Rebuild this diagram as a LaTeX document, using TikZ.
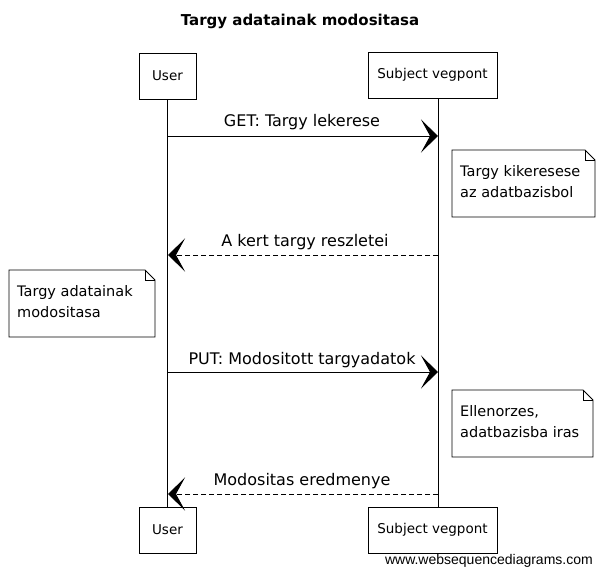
\documentclass[tikz,border=0pt]{standalone}
\usepackage{fontspec}
\setmainfont{DejaVu Sans}
\newfontfamily\footfont{Liberation Sans}
\usetikzlibrary{arrows.meta}
\tikzset{
  part/.style={draw, line width=0.8pt, minimum height=46pt, inner sep=0pt, font=\fontsize{13.5}{16}\selectfont},
  notetext/.style={align=left, anchor=north west, inner sep=0pt, font=\fontsize{14.5}{21}\selectfont},
  msg/.style={line width=0.9pt, -{Stealth[length=17pt, width=33pt, inset=9pt]}},
  reply/.style={msg, dashed, dash pattern=on 5pt off 3pt},
  lbl/.style={font=\fontsize{16}{18}\selectfont, inner sep=0pt},
  life/.style={line width=0.7pt},
  notebox/.style={line width=0.8pt, fill=white}
}
\newcommand{\mynote}[5]{% name, x1, y1, x2, y2
  \draw[notebox] (#2,#3) -- (#4-10,#3) -- (#4,#3+10) -- (#4,#5) -- (#2,#5) -- cycle;
  \draw[line width=0.6pt] (#4-10,#3) -- (#4-10,#3+10) -- (#4,#3+10);
  \coordinate (#1) at (#2+8,#3+15);
}
\begin{document}
\begin{tikzpicture}[x=1pt,y=-1pt]
\useasboundingbox (0,0) rectangle (602,577);
\node[font=\bfseries\fontsize{15}{18}\selectfont] (title) at (300,21) {Targy adatainak modositasa};

\node[part, minimum width=57pt] (utop) at (167.5,76) {User};
\node[part, minimum width=129pt] (stop) at (432.5,75) {Subject vegpont};
\node[part, minimum width=57pt] (ubot) at (167.5,530) {User};
\node[part, minimum width=129pt] (sbot) at (432.5,530) {Subject vegpont};

\draw[life] (utop.south) -- (ubot.north);
\draw[life] ([xshift=5.5pt]stop.south) -- ([xshift=5.5pt]sbot.north);

% message 1
\coordinate (m1a) at (168,136);
\coordinate (m1b) at (438,136);
\draw[msg] (m1a) -- (m1b);
\node[lbl] (l1) at (302,122) {GET: Targy lekerese};

% note 1
\mynote{n1}{452}{150}{595}{217}
\node[notetext] (t1) at (n1) {Targy kikeresese\\az adatbazisbol};

% message 2
\coordinate (m2a) at (438,255);
\coordinate (m2b) at (168,255);
\draw[reply] (m2a) -- (m2b);
\node[lbl] (l2) at (305,242) {A kert targy reszletei};

% note 2
\mynote{n2}{9}{270}{155}{337}
\node[notetext] (t2) at (n2) {Targy adatainak\\modositasa};

% message 3
\coordinate (m3a) at (168,372);
\coordinate (m3b) at (438,372);
\draw[msg] (m3a) -- (m3b);
\node[lbl] (l3) at (302,360) {PUT: Modositott targyadatok};

% note 3
\mynote{n3}{452}{390}{593}{457}
\node[notetext] (t3) at (n3) {Ellenorzes,\\adatbazisba iras};

% message 4
\coordinate (m4a) at (438,494);
\coordinate (m4b) at (168,494);
\draw[reply] (m4a) -- (m4b);
\node[lbl] (l4) at (302,481) {Modositas eredmenye};

\node[font=\footfont\fontsize{14}{16}\selectfont, anchor=east, inner sep=0pt] (foot) at (593,561) {www.websequencediagrams.com};
\end{tikzpicture}
\end{document}
